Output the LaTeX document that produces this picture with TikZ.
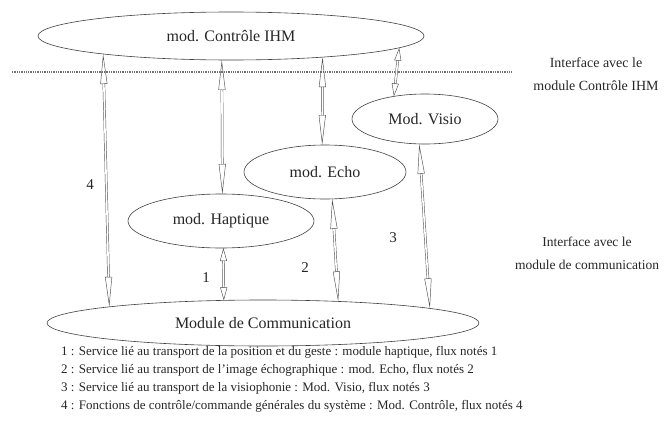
\documentclass[tikz,border=0pt]{standalone}
\usepackage{fontspec}
\setmainfont{Liberation Serif}
\usetikzlibrary{shapes.geometric,arrows.meta}

\begin{document}
\begin{tikzpicture}[x=1pt,y=-1pt]
	 \tikzstyle{module}=[ellipse,draw=black!75,line width=0.6pt,inner sep=0pt,outer sep=0pt,text=black!85,font=\fontsize{16}{19}\selectfont]
	 \tikzstyle{flux} = [draw=black!70,double=white,double distance=1.6pt,line width=0.45pt]
	 \tikzstyle{long flux} = [flux,{Triangle[open,length=30pt,width=7pt]}-{Triangle[open,length=30pt,width=7pt]}]
	 \tikzstyle{short flux} = [flux,{Triangle[open,length=13pt,width=7pt]}-{Triangle[open,length=13pt,width=7pt]}]
	 \tikzstyle{num} = [text=black!85,font=\fontsize{15}{18}\selectfont]
	 \tikzstyle{interface} = [align=center,text=black!85,font=\fontsize{14}{23}\selectfont]

	 \useasboundingbox (0,0) rectangle (664,431);

	 \node[module,minimum width=386pt,minimum height=48pt] (ctrl) at (231,36) {mod. Contrôle IHM};
	 \node[module,minimum width=146pt,minimum height=50pt] (visio) at (425,119) {Mod. Visio};
	 \node[module,minimum width=162pt,minimum height=54pt] (echo) at (325,172) {mod. Echo};
	 \node[module,minimum width=186pt,minimum height=54pt] (hapt) at (221,221) {mod. Haptique};
	 \node[module,minimum width=432pt,minimum height=46pt] (comm) at (263,323) {Module de Communication};

	 \coordinate (ligne a) at (12,72);
	 \coordinate (ligne b) at (512,72);
	 \draw[black!55,line width=1.3pt,densely dotted] (ligne a) -- (ligne b);

	 \node[interface] (if ctrl) at (596,74) {Interface avec le\\module Contrôle IHM};
	 \node[interface,font=\fontsize{13.5}{23}\selectfont] (if comm) at (587,253) {Interface avec le\\module de communication};

	 \draw[long flux] (ctrl.188.4) -- (comm.174.2);
	 \draw[long flux] (ctrl.249.4) -- (hapt.87.9);
	 \draw[long flux] (ctrl.-13.1) -- (echo.96.3);
	 \draw[short flux] (ctrl.-4.6) -- (visio.144.9);
	 \draw[short flux] (hapt.-85.8) -- (comm.150.5);
	 \draw[long flux] (echo.-75.4) -- (comm.16.7);
	 \draw[long flux] (visio.-103.5) -- (comm.5.8);

	 \node[num] (n4) at (90,185) {4};
	 \node[num] (n1) at (206,278) {1};
	 \node[num] (n2) at (305,268) {2};
	 \node[num] (n3) at (393,238) {3};

	 \node[anchor=north west,align=left,inner sep=0pt,text=black!85,font=\fontsize{13}{18}\selectfont] (legende) at (61,346) {1 : Service lié au transport de la position et du geste : module haptique, flux notés 1\\
2 : Service lié au transport de l'image échographique : mod. Echo, flux notés 2\\
3 : Service lié au transport de la visiophonie : Mod. Visio, flux notés 3\\
4 : Fonctions de contrôle/commande générales du système : Mod. Contrôle, flux notés 4};
\end{tikzpicture}
\end{document}
